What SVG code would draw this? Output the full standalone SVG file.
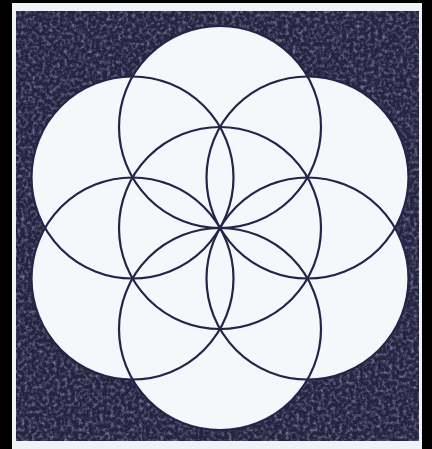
<svg xmlns="http://www.w3.org/2000/svg" width="432" height="449" viewBox="0 0 432 449">
  <defs>
    <style>
      .petal { fill: #f5f8fa; stroke: none; }
      .ring { fill: none; stroke: #24244a; stroke-width: 2.2; }
    </style>
    <filter id="grain" x="0" y="0" width="100%" height="100%">
      <feTurbulence type="fractalNoise" baseFrequency="0.28" numOctaves="3" seed="7" result="n"/>
      <feColorMatrix in="n" type="matrix" values="0.7 0 0 0 0  0.6 0 0 0 0.02  1.0 0 0 0 0.05  0 0 0 1.4 -0.6"/>
      <feComposite in2="SourceGraphic" operator="in"/>
    </filter>
  </defs>
  <g id="frame">
    <rect x="0" y="0" width="432" height="449" fill="#000000"/>
    <rect x="12" y="3" width="410" height="446" fill="#eef3f5"/>
    <rect x="16" y="11" width="403" height="430" fill="#25243f"/>
    <rect x="16" y="11" width="403" height="430" fill="#25243f" filter="url(#grain)"/>
  </g>
  <g id="fills">
    <circle class="petal" cx="220" cy="228" r="101"/>
    <circle class="petal" cx="220" cy="127" r="101"/>
    <circle class="petal" cx="307.5" cy="177.5" r="101"/>
    <circle class="petal" cx="307.5" cy="278.5" r="101"/>
    <circle class="petal" cx="220" cy="329" r="101"/>
    <circle class="petal" cx="132.5" cy="278.5" r="101"/>
    <circle class="petal" cx="132.5" cy="177.5" r="101"/>
  </g>
  <g id="connectors">
    <g id="circle-center"><circle class="ring" cx="220" cy="228" r="101"/></g>
    <g id="circle-top"><circle class="ring" cx="220" cy="127" r="101"/></g>
    <g id="circle-top-right"><circle class="ring" cx="307.5" cy="177.5" r="101"/></g>
    <g id="circle-bottom-right"><circle class="ring" cx="307.5" cy="278.5" r="101"/></g>
    <g id="circle-bottom"><circle class="ring" cx="220" cy="329" r="101"/></g>
    <g id="circle-bottom-left"><circle class="ring" cx="132.5" cy="278.5" r="101"/></g>
    <g id="circle-top-left"><circle class="ring" cx="132.5" cy="177.5" r="101"/></g>
  </g>
</svg>
